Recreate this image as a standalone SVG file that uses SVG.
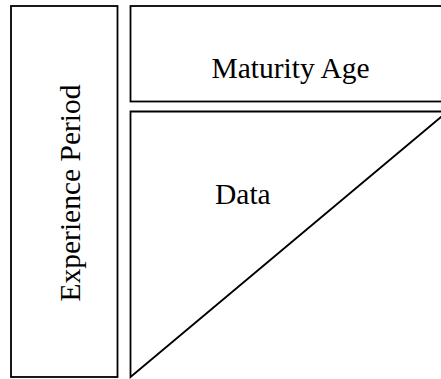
<svg xmlns="http://www.w3.org/2000/svg" width="441" height="379" viewBox="0 0 441 379">
  <style>
    .box { fill: #ffffff; stroke: #000000; stroke-width: 1.8; }
    text { font-family: 'Liberation Serif', 'Times New Roman', Times, serif; font-size: 29.5px; fill: #000000; }
  </style>
  <rect width="441" height="379" fill="#ffffff"/>
  <g id="experience-period">
    <rect class="box" x="11" y="6" width="106.5" height="371"/>
    <text text-anchor="middle" transform="translate(79.5 193) rotate(-90)">Experience Period</text>
  </g>
  <g id="maturity-age">
    <rect class="box" x="130.5" y="6" width="320" height="95.5"/>
    <text x="290.5" y="77.5" text-anchor="middle">Maturity Age</text>
  </g>
  <g id="data">
    <path class="box" d="M130.5 111.5 H447.6 L130.5 377 Z"/>
    <text x="215" y="204">Data</text>
  </g>
  <g id="connectors"/>
</svg>
